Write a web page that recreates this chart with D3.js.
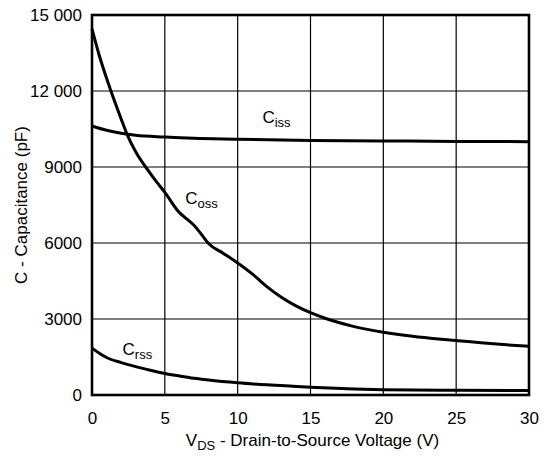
<!DOCTYPE html>
<html>
<head>
<meta charset="utf-8">
<script src="https://cdn.jsdelivr.net/npm/d3@7"></script>
<style>
  html, body { margin: 0; padding: 0; background: #fff; }
  svg { display: block; font-family: "Liberation Sans", Arial, Helvetica, sans-serif; }
  .grid line { stroke: #000; stroke-width: 1.2; }
  .curve { fill: none; stroke: #000; stroke-width: 3; stroke-linejoin: round; }
</style>
</head>
<body>
<div id="chart"></div>
<script>
// Ciss, Coss, Crss vs VDS
const cissV = [0, 1, 2, 3, 5, 7, 10, 15, 20, 25, 30];
const cissC = [10620, 10450, 10330, 10250, 10180, 10130, 10100, 10050, 10030, 10010, 10000];

const cossV = [0, 0.5, 1, 1.3, 2, 2.4, 3, 4, 4.33, 5, 6, 6.5, 7, 7.5, 8, 9, 10, 11, 12, 13, 14, 15, 16, 17, 18, 19, 20, 22, 24, 26, 28, 30];
const cossC = [14450, 13400, 12500, 12000, 10900, 10300, 9600, 8750, 8490, 8000, 7200, 6950, 6700, 6350, 5980, 5600, 5210, 4780, 4280, 3860, 3520, 3250, 3030, 2850, 2700, 2580, 2480, 2320, 2200, 2100, 2000, 1920];

const crssV = [0, 0.5, 1, 2, 3, 4, 5, 6, 7, 8, 10, 12, 15, 18, 20, 25, 30];
const crssC = [1850, 1650, 1480, 1280, 1120, 980, 850, 750, 660, 590, 480, 400, 310, 240, 210, 185, 175];

const xTicks = [0, 5, 10, 15, 20, 25, 30];
const yTicks = [0, 3000, 6000, 9000, 12000, 15000];
const yTickLabels = ['0', '3000', '6000', '9000', '12 000', '15 000'];

// curve labels: name, subscript, anchor point in data units
const labelNames = ['C', 'C', 'C'];
const labelSubs  = ['iss', 'oss', 'rss'];
const labelV     = [11.7, 6.4, 2.1];
const labelC     = [10740, 7550, 1570];

const width = 544, height = 458;
const margin = { top: 15, right: 15, bottom: 63, left: 92 };
const FONT = 17;

const svg = d3.select('#chart').append('svg')
  .attr('width', width).attr('height', height);

const x = d3.scaleLinear().domain([0, 30]).range([margin.left, width - margin.right]);
const y = d3.scaleLinear().domain([0, 15000]).range([height - margin.bottom, margin.top]);

// grid
const grid = svg.append('g').attr('class', 'grid');
grid.selectAll('line.v').data(xTicks).join('line').attr('class', 'v')
  .attr('x1', d => x(d)).attr('x2', d => x(d))
  .attr('y1', y(0)).attr('y2', y(15000));
grid.selectAll('line.h').data(yTicks).join('line').attr('class', 'h')
  .attr('x1', x(0)).attr('x2', x(30))
  .attr('y1', d => y(d)).attr('y2', d => y(d));

// axes
const xAxis = svg.append('g')
  .attr('transform', `translate(0,${y(0)})`)
  .call(d3.axisBottom(x).tickValues(xTicks).tickSize(0).tickPadding(17));
const yAxis = svg.append('g')
  .attr('transform', `translate(${x(0)},0)`)
  .call(d3.axisLeft(y).tickValues(yTicks).tickSize(0).tickPadding(10)
    .tickFormat((d, i) => yTickLabels[i]));
[xAxis, yAxis].forEach(a => {
  a.select('.domain').remove();
  a.selectAll('text').attr('font-size', FONT).attr('fill', '#000')
    .attr('font-family', '"Liberation Sans", Arial, sans-serif');
});

// curves
const line = d3.line().x(d => x(d[0])).y(d => y(d[1])).curve(d3.curveMonotoneX);
[[cissV, cissC], [cossV, cossC], [crssV, crssC]].forEach(([vs, cs]) => {
  svg.append('path').attr('class', 'curve')
    .attr('d', line(vs.map((v, i) => [v, cs[i]])));
});

// frame
svg.append('rect')
  .attr('x', x(0)).attr('y', y(15000))
  .attr('width', x(30) - x(0)).attr('height', y(0) - y(15000))
  .attr('fill', 'none').attr('stroke', '#000').attr('stroke-width', 2.6);

// curve labels
labelNames.forEach((n, i) => {
  const t = svg.append('text')
    .attr('x', x(labelV[i])).attr('y', y(labelC[i]))
    .attr('font-size', FONT).attr('fill', '#000');
  t.append('tspan').text(n);
  t.append('tspan').attr('font-size', 13).attr('dy', 4).text(labelSubs[i]);
});

// axis titles
const xt = svg.append('text')
  .attr('x', (x(0) + x(30)) / 2 + 2).attr('y', 446)
  .attr('text-anchor', 'middle').attr('font-size', FONT).attr('fill', '#000');
xt.append('tspan').text('V');
xt.append('tspan').attr('font-size', 13).attr('dy', 4).text('DS');
xt.append('tspan').attr('dy', -4).text(' - Drain-to-Source Voltage (V)');

svg.append('text')
  .attr('transform', `translate(27,${(y(0) + y(15000)) / 2}) rotate(-90)`)
  .attr('text-anchor', 'middle').attr('font-size', FONT).attr('fill', '#000')
  .text('C - Capacitance (pF)');
</script>
</body>
</html>
